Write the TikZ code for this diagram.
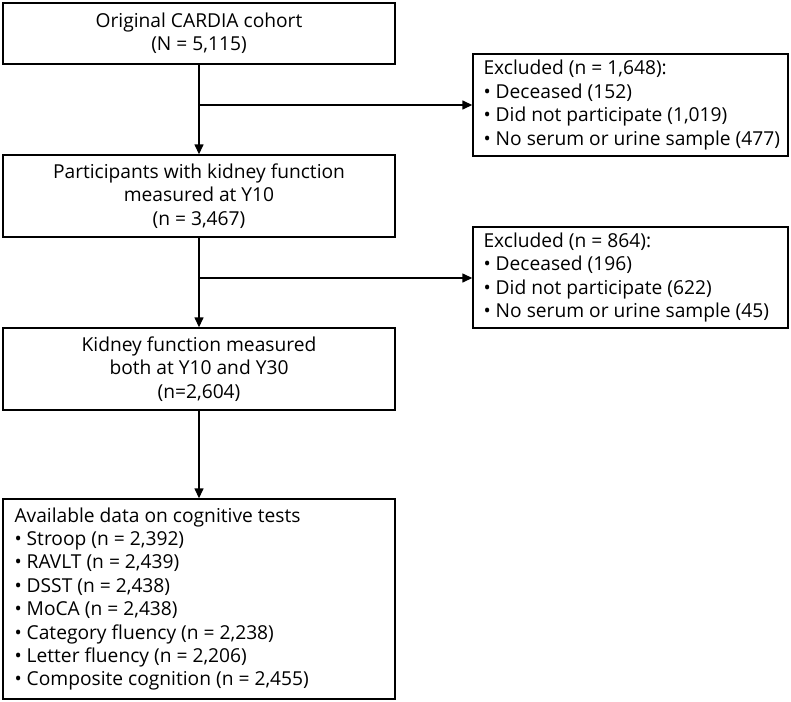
\documentclass[tikz,border=0pt]{standalone}
\usepackage{fontspec}
\setmainfont{Open Sans}
\usetikzlibrary{arrows.meta}
\begin{document}
\begin{tikzpicture}[x=1pt,y=-1pt,
  box/.style={draw, line width=1.4pt, rectangle, inner sep=0pt},
  txt/.style={font=\fontsize{19.2}{23.4}\selectfont, inner sep=0pt},
  conn/.style={line width=1.4pt, -{Triangle[length=10pt,width=9pt]}},
  ]
\useasboundingbox (0,0) rectangle (791,701);
% main boxes
\node[box, minimum width=392pt, minimum height=61pt] (b1) at (199,33.5) {};
\node[txt, align=center] (t1) at (b1.center) {Original CARDIA cohort\\(N = 5,115)};
\node[box, minimum width=392pt, minimum height=82pt] (b2) at (199,196) {};
\node[txt, align=center] (t2) at (b2.center) {Participants with kidney function\\measured at Y10\\(n = 3,467)};
\node[box, minimum width=392pt, minimum height=82pt] (b3) at (199,369) {};
\node[txt, align=center] (t3) at (b3.center) {Kidney function measured\\both at Y10 and Y30\\(n=2,604)};
\node[box, minimum width=392pt, minimum height=200pt] (b4) at (199,599) {};
\node[txt, align=left, anchor=west] (t4) at ([xshift=12pt]b4.west) {Available data on cognitive tests\\• Stroop (n = 2,392)\\• RAVLT (n = 2,439)\\• DSST (n = 2,438)\\• MoCA (n = 2,438)\\• Category fluency (n = 2,238)\\• Letter fluency (n = 2,206)\\• Composite cognition (n = 2,455)};
% exclusion boxes
\node[box, minimum width=315pt, minimum height=102pt] (e1) at (630.5,105) {};
\node[txt, align=left, anchor=west] (te1) at ([xshift=11pt]e1.west) {Excluded (n = 1,648):\\• Deceased (152)\\• Did not participate (1,019)\\• No serum or urine sample (477)};
\node[box, minimum width=315pt, minimum height=101pt] (e2) at (630.5,277.5) {};
\node[txt, align=left, anchor=west] (te2) at ([xshift=11pt]e2.west) {Excluded (n = 864):\\• Deceased (196)\\• Did not participate (622)\\• No serum or urine sample (45)};
% connectors
\coordinate (j1) at (199,105);
\coordinate (j2) at (199,278);
\draw[conn] (b1.south) -- (b2.north);
\draw[conn] (j1) -- (j1 -| e1.west);
\draw[conn] (b2.south) -- (b3.north);
\draw[conn] (j2) -- (j2 -| e2.west);
\draw[conn] (b3.south) -- (b4.north);
\end{tikzpicture}
\end{document}
